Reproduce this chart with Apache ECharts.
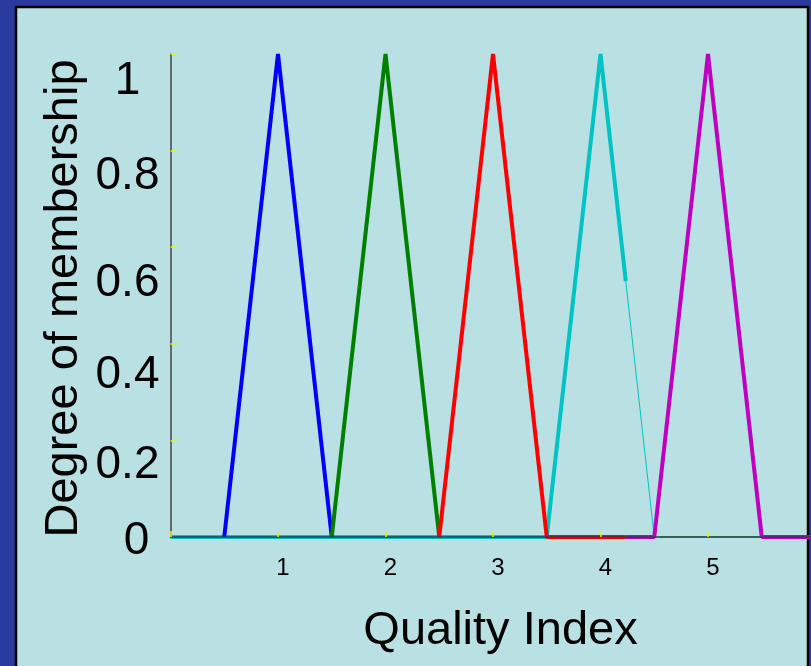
<!DOCTYPE html>
<html>
<head>
<meta charset="utf-8">
<script src="https://cdn.jsdelivr.net/npm/echarts@6/dist/echarts.min.js"></script>
<style>
html,body{margin:0;padding:0;background:#2a3a9e;}
#c{width:811px;height:666px;}
</style>
</head>
<body>
<div id="c"></div>
<script>
// ---- data ----
const xTickLabels = ['', '1', '2', '3', '4', '5', ''];
const yTickLabels = ['0', '0.2', '0.4', '0.6', '0.8', '1'];
const blueSeries = [[0.5, 0], [1, 1], [1.5, 0]];
const greenSeries = [[1.5, 0], [2, 1], [2.5, 0]];
const greenBaseline = [[4.55, 0], [5.5, 0]];
const redSeries = [[2.5, 0], [3, 1], [3.5, 0], [4.23, 0]];
const cyanSeries = [[0, 0], [3.5, 0], [4, 1], [4.235, 0.53]];
const cyanTail = [[4.235, 0.53], [4.5, 0]];
const magentaSeries = [[4.23, 0], [4.5, 0], [5, 1], [5.5, 0], [6, 0]];

// ---- style (label vertical offsets, px, by tick index) ----
const yLabelDy = [4, 25, 32, 36, 26, 27];
const yLabelDx = [18, 0, 0, 0, 0, 0];
const FONT = 'Liberation Sans, Arial, sans-serif';

const rich = {};
yTickLabels.forEach((t, i) => {
  rich['r' + i] = {
    fontSize: 46, fontFamily: FONT, color: '#000',
    padding: [2 * yLabelDy[i], 0, 0, yLabelDx[i]], align: 'center'
  };
});

const chart = echarts.init(document.getElementById('c'));
const lineSeries = (data, color, width, z) => ({
  type: 'line', data: data, showSymbol: false, symbol: 'none', z: z,
  lineStyle: { color: color, width: width }, animation: false, clip: true
});

chart.setOption({
  backgroundColor: '#2a3a9e',
  animation: false,
  graphic: [{
    type: 'rect', z: -10, silent: true,
    shape: { x: 16, y: 7, width: 792, height: 680 },
    style: { fill: '#b9e0e3', stroke: '#000', lineWidth: 2.5 }
  }],
  grid: { left: 170.5, top: 54, width: 645, height: 483, containLabel: false, outerBoundsMode: 'none' },
  xAxis: {
    type: 'value', min: 0, max: 6, interval: 1, z: 5,
    axisLine: { show: true, lineStyle: { color: '#243c55', width: 1.5 } },
    axisTick: { show: true, inside: true, length: 6, lineStyle: { color: '#f0f000', width: 1.5 } },
    splitLine: { show: false },
    axisLabel: {
      margin: 19, fontSize: 24, color: '#000', fontFamily: FONT,
      padding: [0, 0, 0, 10],
      formatter: v => xTickLabels[Math.round(v)] || ''
    },
    name: 'Quality Index', nameLocation: 'middle', nameGap: 94, nameMoveOverlap: false,
    nameTextStyle: {
      fontSize: 47, color: '#000', fontFamily: FONT,
      align: 'center', verticalAlign: 'middle', padding: [0, 0, 0, 15]
    }
  },
  yAxis: {
    type: 'value', min: 0, max: 1, interval: 0.2,
    axisLine: { show: true, lineStyle: { color: '#5f6b6b', width: 2 } },
    axisTick: { show: true, inside: true, length: 6, lineStyle: { color: '#f0f000', width: 1.5 } },
    splitLine: { show: false },
    axisLabel: {
      margin: 43, align: 'center', verticalAlign: 'middle', rich: rich,
      formatter: v => { const i = Math.round(v * 5); return '{r' + i + '|' + yTickLabels[i] + '}'; }
    },
    name: 'Degree of membership', nameLocation: 'middle', nameGap: 106, nameRotate: 90,
    nameMoveOverlap: false,
    nameTextStyle: {
      fontSize: 47, color: '#000', fontFamily: FONT,
      align: 'center', verticalAlign: 'middle', padding: [0, 6, 0, 0]
    }
  },
  series: [
    lineSeries(cyanSeries, '#00c4c4', 4, 2),
    lineSeries(cyanTail, '#00c4c4', 1, 2),
    lineSeries(blueSeries, '#0000ff', 4, 3),
    lineSeries(greenSeries, '#008000', 4, 3),
    lineSeries(greenBaseline, '#33cc33', 1.5, 3),
    lineSeries(redSeries, '#ff0000', 4, 4),
    lineSeries(magentaSeries, '#c000c0', 4, 4)
  ]
});
</script>
</body>
</html>
